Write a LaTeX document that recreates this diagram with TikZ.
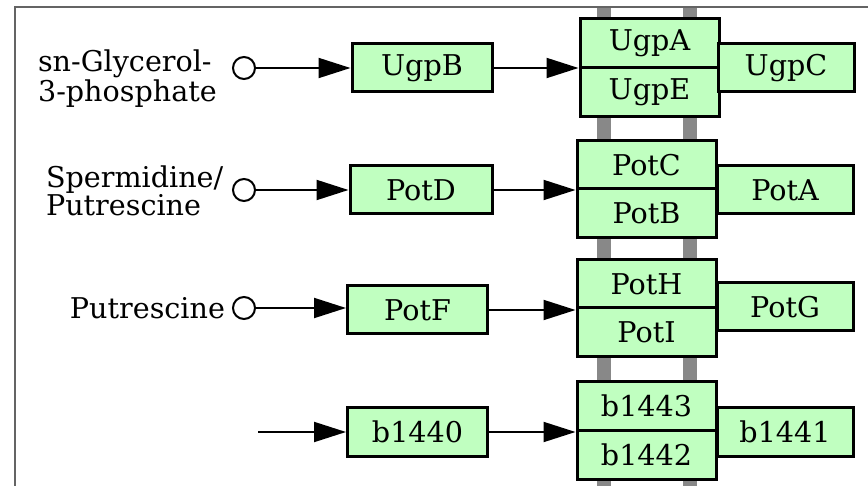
\documentclass[tikz,border=0pt]{standalone}
\usepackage{fontspec}
\setmainfont{DejaVu Serif}
\usetikzlibrary{arrows.meta}

\definecolor{boxgreen}{RGB}{192,255,192}
\definecolor{bargray}{RGB}{136,136,136}
\definecolor{framegray}{RGB}{100,100,100}

\begin{document}
\begin{tikzpicture}[x=0.5pt,y=-0.5pt,
    gene/.style={draw,fill=boxgreen,line width=1.5pt,minimum width=70pt,minimum height=24pt,inner sep=0pt},
    pairgene/.style={gene,minimum width=69.5pt,minimum height=24.5pt},
    sidegene/.style={gene,minimum width=68pt},
    metab/.style={draw,circle,line width=1pt,fill=white,minimum size=11pt,inner sep=0pt},
    conn/.style={line width=1pt,-{Triangle[length=16pt,width=10pt]}},
    font=\fontsize{14.3}{14}\selectfont]
            \useasboundingbox (0,0) rectangle (868,486);

            % Drawing frame
            \draw [framegray,line width=1pt] (15,486) -- (15,7) -- (868,7);%

            % Drawing membrane bars
            \fill [bargray] (597,8) rectangle (611,486);%
            \fill [bargray] (683,8) rectangle (697,486);%

            % Drawing sn-Glycerol-3-phosphate row
            \node [metab] (g3p) at (244,68) {};%
            \node [anchor=west,align=left] (g3plabel) at (31,79) {sn-Glycerol-\\3-phosphate};%
            \node [gene] (ugpB) at (422,68) {UgpB};%
            \node [pairgene] (ugpA) at (649.5,43) {UgpA};%
            \node [pairgene] (ugpE) at (649.5,92) {UgpE};%
            \node [sidegene] (ugpC) at (786,68) {UgpC};%
            \draw [conn] (g3p) -- (ugpB);%
            \draw [conn] (ugpB.east) -- (ugpB.east -| ugpA.south west);%

            % Drawing Spermidine/Putrescine row
            \node [metab] (spd) at (244,190) {};%
            \node [anchor=west,align=left] (spdlabel) at (39,191) {Spermidine/\\Putrescine};%
            \node [gene,minimum width=71pt] (potD) at (421,190) {PotD};%
            \node [pairgene] (potC) at (646.5,165) {PotC};%
            \node [pairgene] (potB) at (646.5,213.5) {PotB};%
            \node [sidegene] (potA) at (785,190) {PotA};%
            \draw [conn] (spd) -- (potD);%
            \draw [conn] (potD.east) -- (potD.east -| potC.south west);%

            % Drawing Putrescine row
            \node [metab] (put) at (244,308) {};%
            \node [anchor=east] (putlabel) at (put.west) {Putrescine};%
            \node [gene] (potF) at (417.5,310) {PotF};%
            \node [pairgene] (potH) at (646.5,284) {PotH};%
            \node [pairgene] (potI) at (646.5,332.5) {PotI};%
            \node [sidegene] (potG) at (785,307) {PotG};%
            \draw [conn] (put) -- (put -| potF.west);%
            \draw [conn] (potF.east |- potH.south) -- (potH.south west);%

            % Drawing b1440 row
            \coordinate (b1440in) at (258,432);%
            \node [gene] (b1440) at (417.5,432) {b1440};%
            \node [pairgene] (b1443) at (646.5,406) {b1443};%
            \node [pairgene] (b1442) at (646.5,455) {b1442};%
            \node [sidegene] (b1441) at (785,432) {b1441};%
            \draw [conn] (b1440in) -- (b1440);%
            \draw [conn] (b1440.east) -- (b1440.east -| b1443.south west);%
        \end{tikzpicture}
\end{document}
